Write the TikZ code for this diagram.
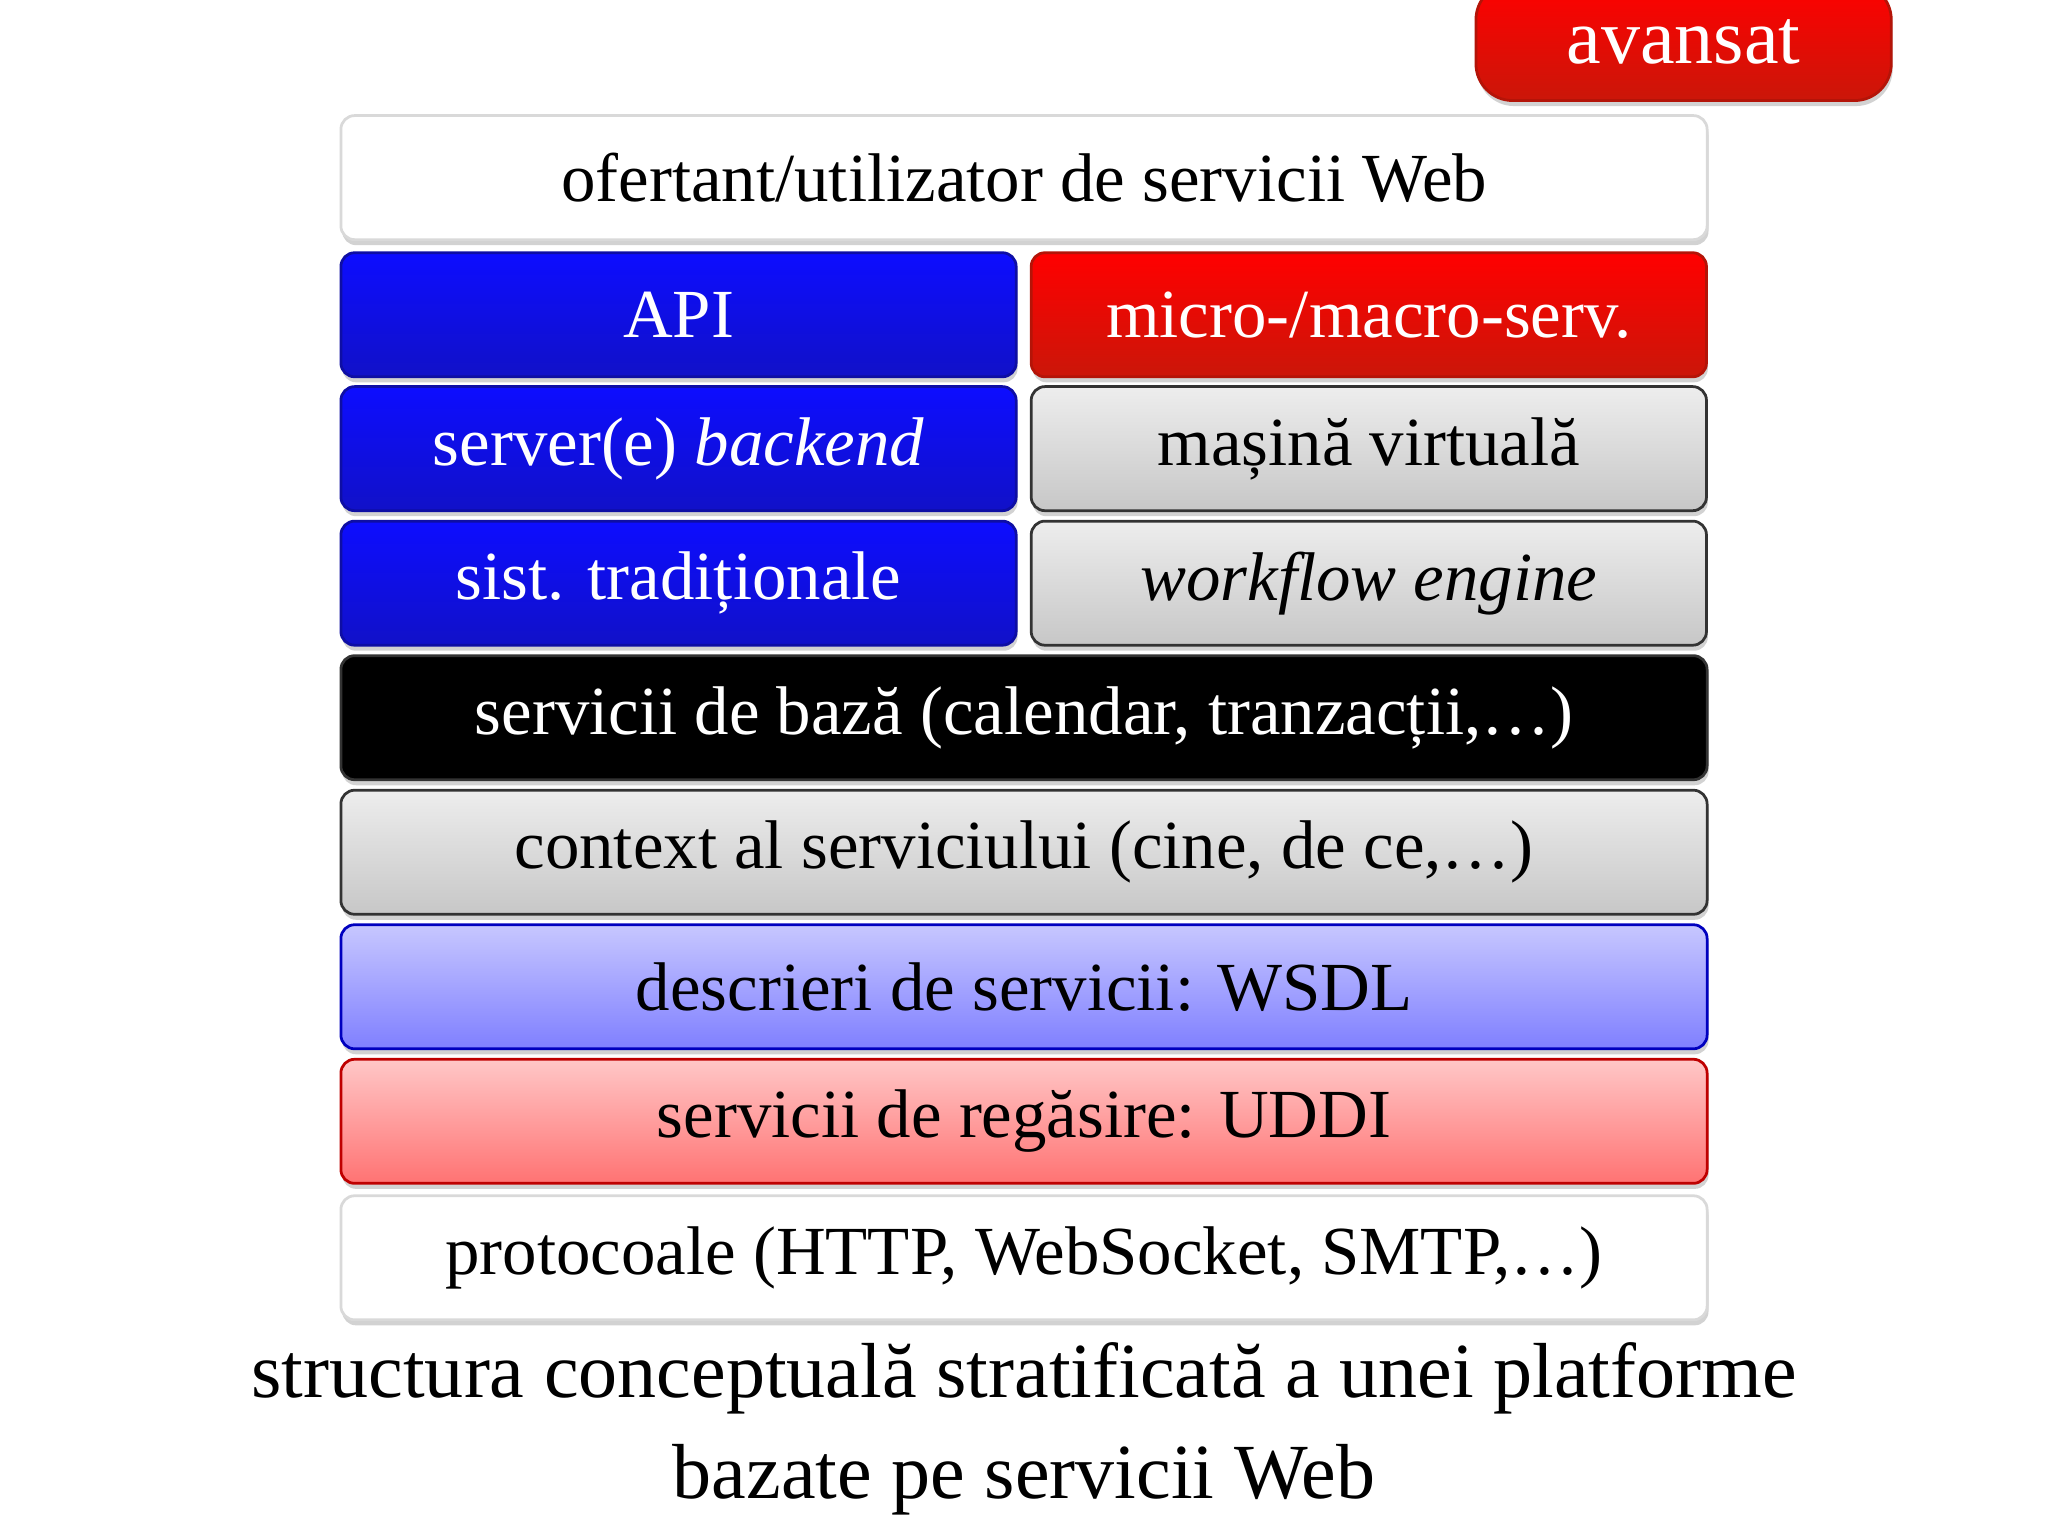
\documentclass[tikz,border=0pt]{standalone}
\usepackage{fontspec}
\setmainfont{Liberation Serif}
\usetikzlibrary{shadows}
\definecolor{myblue}{RGB}{20,20,235}
\definecolor{myred}{RGB}{225,25,10}
\tikzset{
 lay/.style={draw=black!80, line width=0.6pt, rounded corners=3pt, inner sep=0pt, font=\fontsize{15}{18}\selectfont, drop shadow={shadow xshift=0.3pt,shadow yshift=-1.2pt,opacity=0.35}},
 half/.style={lay, minimum width=5.17cm, minimum height=0.95cm},
 full/.style={lay, minimum width=10.46cm, minimum height=0.95cm},
 bluebox/.style={top color=blue!95!white, bottom color=myblue!85!black, draw=myblue!70!black, text=white},
 redbox/.style={top color=red!100, bottom color=myred!90!black, draw=myred!80!black, text=white},
 graybox/.style={top color=white!93!black, bottom color=black!22, text=black},
 whitebox/.style={fill=white, draw=black!15, text=black},
}
\begin{document}
\begin{tikzpicture}
\fill[white] (0,0) rectangle (15.68,-11.76);
\useasboundingbox (0,0) rectangle (15.68,-11.76);
\node[lay, redbox, minimum width=3.18cm, minimum height=0.9cm, rounded corners=8pt, font=\fontsize{17}{20}\selectfont] (av) at (12.89,-0.32) {avansat};
\node[full, whitebox] (of) at (7.84,-1.36) {ofertant/utilizator de servicii Web};
\node[half, bluebox] (api) at (5.195,-2.41) {API};
\node[half, redbox] (mic) at (10.48,-2.41) {micro-/macro-serv.};
\node[half, bluebox] (srv) at (5.195,-3.435) {server(e) \textit{backend}};
\node[half, graybox] (vm) at (10.48,-3.435) {mașină virtuală};
\node[half, bluebox] (sist) at (5.195,-4.465) {sist. tradiționale};
\node[half, graybox] (wf) at (10.48,-4.465) {\textit{workflow engine}};
\node[full, fill=black, text=white] (baza) at (7.84,-5.495) {servicii de bază (calendar, tranzacții,…)};
\node[full, graybox] (ctx) at (7.84,-6.525) {context al serviciului (cine, de ce,…)};
\node[full, top color=blue!22, bottom color=blue!50, draw=blue!75!black, text=black] (wsdl) at (7.84,-7.555) {descrieri de servicii: WSDL};
\node[full, top color=red!22, bottom color=red!55, draw=red!75!black, text=black] (uddi) at (7.84,-8.585) {servicii de regăsire: UDDI};
\node[full, whitebox] (prot) at (7.84,-9.63) {protocoale (HTTP, WebSocket, SMTP,…)};
\node[align=center, font=\fontsize{17}{22}\selectfont, inner sep=0pt] (cap) at (7.84,-10.94) {structura conceptuală stratificată a unei platforme\\bazate pe servicii Web};
\end{tikzpicture}
\end{document}
